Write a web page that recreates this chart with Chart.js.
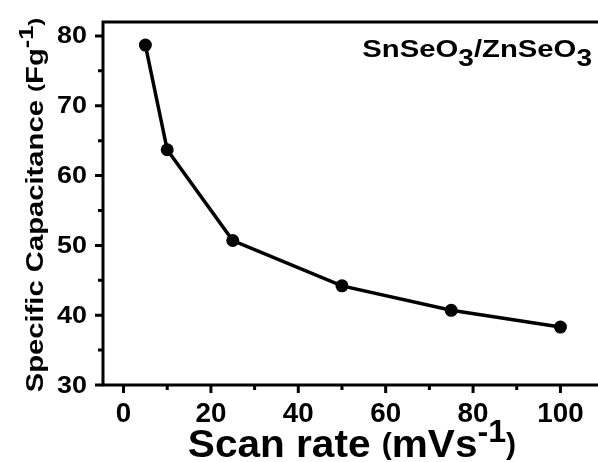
<!DOCTYPE html>
<html>
<head>
<meta charset="utf-8">
<script src="https://cdn.jsdelivr.net/npm/chart.js@4/dist/chart.umd.min.js"></script>
<style>
  body { margin: 0; background: #fff; }
  canvas { display: block; }
</style>
</head>
<body>
<canvas id="mychart" width="598" height="462"></canvas>
<script>
// data
var scanRate = [5, 10, 25, 50, 75, 100];
var capacitance = [78.7, 63.7, 50.7, 44.2, 40.7, 38.3];
var xTickLabels = [0, 20, 40, 60, 80, 100];
var yTickLabels = [30, 40, 50, 60, 70, 80];
var xMinorTicks = [10, 30, 50, 70, 90];
var yMinorTicks = [35, 45, 55, 65, 75];

var FONT = '"Liberation Sans", Arial, sans-serif';

// draw a run of text pieces (for sub/superscripts), stretched by sx along the run
function drawRich(ctx, parts, x, y, align, sx) {
    sx = sx || 1;
    var total = 0;
    parts.forEach(function(p) {
        ctx.font = 'bold ' + p.size + 'px ' + FONT;
        total += ctx.measureText(p.t).width;
    });
    var w = total * sx;
    var cx = align === 'center' ? x - w / 2 : (align === 'right' ? x - w : x);
    ctx.save();
    ctx.translate(cx, y);
    ctx.scale(sx, 1);
    ctx.textBaseline = 'alphabetic';
    ctx.textAlign = 'left';
    var pos = 0;
    parts.forEach(function(p) {
        ctx.font = 'bold ' + p.size + 'px ' + FONT;
        ctx.fillText(p.t, pos, p.dy || 0);
        pos += ctx.measureText(p.t).width;
    });
    ctx.restore();
}

var frame = {
    id: 'frame',
    afterDraw: function(chart) {
        var ctx = chart.ctx;
        var a = chart.chartArea;
        var xs = chart.scales.x, ys = chart.scales.y;
        ctx.save();
        ctx.strokeStyle = '#000';
        ctx.fillStyle = '#000';
        ctx.lineWidth = 3;
        ctx.lineCap = 'butt';
        // left, bottom, top axis lines (right edge is cut off)
        ctx.beginPath();
        ctx.moveTo(a.right + 2, a.top);
        ctx.lineTo(a.left, a.top);
        ctx.lineTo(a.left, a.bottom);
        ctx.lineTo(a.right + 2, a.bottom);
        ctx.stroke();
        // tick marks
        ctx.beginPath();
        xTickLabels.forEach(function(v) {
            var px = xs.getPixelForValue(v);
            ctx.moveTo(px, a.bottom); ctx.lineTo(px, a.bottom + 8);
        });
        xMinorTicks.forEach(function(v) {
            var px = xs.getPixelForValue(v);
            ctx.moveTo(px, a.bottom); ctx.lineTo(px, a.bottom + 5);
        });
        yTickLabels.forEach(function(v) {
            var py = ys.getPixelForValue(v);
            ctx.moveTo(a.left, py); ctx.lineTo(a.left - 8, py);
        });
        yMinorTicks.forEach(function(v) {
            var py = ys.getPixelForValue(v);
            ctx.moveTo(a.left, py); ctx.lineTo(a.left - 5, py);
        });
        ctx.stroke();

        // tick labels
        xTickLabels.forEach(function(v) {
            drawRich(ctx, [{t: String(v), size: 27}], xs.getPixelForValue(v), 422, 'center', 1.03);
        });
        yTickLabels.forEach(function(v) {
            drawRich(ctx, [{t: String(v), size: 24}], 87, ys.getPixelForValue(v) + 7.5, 'right', 1.12);
        });

        // x title
        drawRich(ctx, [
            {t: 'Scan rate ', size: 39},
            {t: '(', size: 29, dy: -3},
            {t: 'mVs', size: 39},
            {t: '-1', size: 31, dy: -15},
            {t: ')', size: 29, dy: -3}
        ], 352, 457, 'center', 1.04);

        // y title, rotated
        ctx.save();
        ctx.translate(43, 205);
        ctx.rotate(-Math.PI / 2);
        drawRich(ctx, [
            {t: 'Specific Capacitance ', size: 23},
            {t: '(', size: 19, dy: -2},
            {t: 'Fg', size: 23},
            {t: '-1', size: 20, dy: -10},
            {t: ')', size: 19, dy: -2}
        ], 0, 0, 'center', 1.27);
        ctx.restore();

        // sample label
        drawRich(ctx, [
            {t: 'SnSeO', size: 24},
            {t: '3', size: 23, dy: 9},
            {t: '/ZnSeO', size: 24},
            {t: '3', size: 23, dy: 9}
        ], 592, 57, 'right', 1.22);
        ctx.restore();
    }
};

var canvas = document.getElementById('mychart').getContext('2d');
var myChart = new Chart(canvas, {
    type: 'scatter',
    data: {
        datasets: [{
            data: scanRate.map(function(x, i) { return {x: x, y: capacitance[i]}; }),
            showLine: true,
            borderColor: '#000',
            backgroundColor: '#000',
            borderWidth: 3.5,
            pointRadius: 6.5,
            pointHoverRadius: 6.5,
            pointBorderWidth: 0,
            tension: 0
        }]
    },
    options: {
        responsive: false,
        animation: false,
        layout: { autoPadding: false, padding: { top: 22, right: 0, left: 0, bottom: 0 } },
        plugins: { legend: { display: false }, tooltip: { enabled: false } },
        scales: {
            x: {
                type: 'linear',
                min: -4.7,
                max: 108.6,
                border: { display: false },
                grid: { display: false, drawTicks: false },
                afterFit: function(s) { s.height = 77; },
                ticks: { display: false }
            },
            y: {
                min: 30,
                max: 82,
                border: { display: false },
                grid: { display: false, drawTicks: false },
                afterFit: function(s) { s.width = 103; },
                ticks: { display: false }
            }
        }
    },
    plugins: [frame]
});
</script>
</body>
</html>
